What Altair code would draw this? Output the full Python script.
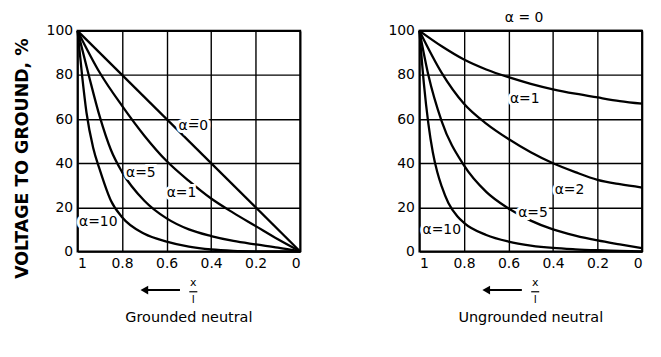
import altair as alt
import pandas as pd

# ---------------- Grounded neutral (left panel) ----------------
g_a0_x = [1.0, 0.0]
g_a0_y = [100, 0]
g_a1_x = [1.0, 0.9, 0.8, 0.7, 0.6, 0.5, 0.4, 0.3, 0.2, 0.1, 0.0]
g_a1_y = [100, 81, 66, 52.5, 41, 32, 24, 17.5, 11.5, 5.5, 0]
g_a5_x = [1.0, 0.95, 0.9, 0.85, 0.8, 0.7, 0.6, 0.5, 0.4, 0.3, 0.2, 0.1, 0.0]
g_a5_y = [100, 80, 61, 46, 36, 23, 15, 10, 7, 4.8, 3.2, 1.7, 0]
g_a10_x = [1.0, 0.98, 0.96, 0.93, 0.9, 0.85, 0.8, 0.7, 0.6, 0.5, 0.4, 0.3, 0.2, 0.0]
g_a10_y = [100, 80, 63, 47, 37, 23, 15.5, 8, 4.5, 2.2, 0.9, 0.3, 0.1, 0]

g_lab_text = ["α=0", "α=5", "α=1", "α=10"]
g_lab_x = [0.48, 0.716, 0.533, 0.907]
g_lab_y = [57, 35.5, 26.5, 13.4]

# ---------------- Ungrounded neutral (right panel) ----------------
u_a0_x = [1.0, 0.0]
u_a0_y = [100, 100]
u_a1_x = [1.0, 0.9, 0.8, 0.7, 0.6, 0.5, 0.4, 0.3, 0.2, 0.1, 0.0]
u_a1_y = [100, 93, 87, 82.5, 79, 76, 73.5, 71.5, 69.8, 68.2, 67]
u_a2_x = [1.0, 0.9, 0.8, 0.7, 0.6, 0.5, 0.4, 0.3, 0.2, 0.1, 0.0]
u_a2_y = [100, 81, 67, 58, 51, 45, 40, 36, 32.5, 30.5, 29]
u_a5_x = [1.0, 0.96, 0.9, 0.8, 0.7, 0.6, 0.5, 0.4, 0.3, 0.2, 0.1, 0.0]
u_a5_y = [100, 80, 59, 39, 27, 19.5, 14, 10, 7.2, 5, 3.2, 1.5]
u_a10_x = [1.0, 0.98, 0.96, 0.94, 0.92, 0.9, 0.87, 0.83, 0.8, 0.7, 0.6, 0.5,
           0.4, 0.3, 0.2, 0.1, 0.0]
u_a10_y = [100, 76, 58, 45, 36, 29.5, 22, 16, 13, 7.5, 4.5, 2.7,
           1.6, 1, 0.6, 0.3, 0]

u_lab_text = ["α = 0", "α=1", "α=2", "α=5", "α=10"]
u_lab_x = [0.53, 0.527, 0.326, 0.49, 0.9]
u_lab_y = [106, 69, 27.8, 17.5, 9.8]

# axis ticks
x_ticks = [1, 0.8, 0.6, 0.4, 0.2, 0]
y_ticks = [0, 20, 40, 60, 80, 100]

panel_titles = ["Grounded neutral", "Ungrounded neutral"]
y_title = "VOLTAGE TO GROUND, %"

# x-axis "<-- x/l" annotation, in data units
arrow_x = [0.70, 0.54]
arrow_y = -17.5
frac_x = 0.48
frac_top_y = -14.5
frac_bot_y = -22
title_y = -30

FONT = "DejaVu Sans"


def series_frame(pairs):
    rows = []
    for name, xs, ys in pairs:
        for xv, yv in zip(xs, ys):
            rows.append({"series": name, "x": xv, "y": yv})
    return pd.DataFrame(rows)


def panel(lines_df, lab_df, title_text, show_title):
    if show_title:
        yaxis = alt.Axis(values=y_ticks, title=y_title, titleFont=FONT,
                         titleFontSize=17.5, titleFontWeight="bold",
                         titleX=-55, titleY=128, titleAngle=270,
                         titleAlign="center", titleBaseline="middle",
                         titleColor="black")
    else:
        yaxis = alt.Axis(values=y_ticks, title=None)
    xscale = alt.Scale(domain=[0, 1], reverse=True)
    yscale = alt.Scale(domain=[0, 100])
    xenc = alt.X("x:Q", scale=xscale,
                 axis=alt.Axis(values=x_ticks, format=".1~f", title=None))
    yenc = alt.Y("y:Q", scale=yscale, axis=yaxis)

    lines = alt.Chart(lines_df).mark_line(
        interpolate="monotone", strokeWidth=2.3, color="black"
    ).encode(x=xenc, y=yenc, detail="series:N")

    halo = alt.Chart(lab_df).mark_text(
        font=FONT, fontSize=14, stroke="white", strokeWidth=6, color="white"
    ).encode(x="x:Q", y="y:Q", text="text:N")
    labels = alt.Chart(lab_df).mark_text(
        font=FONT, fontSize=14, color="black"
    ).encode(x="x:Q", y="y:Q", text="text:N")

    arrow_df = pd.DataFrame({"x": [arrow_x[0]], "x2": [arrow_x[1]], "y": [arrow_y]})
    shaft = alt.Chart(arrow_df).mark_rule(color="black", strokeWidth=2).encode(
        x="x:Q", x2="x2:Q", y="y:Q")
    head = alt.Chart(arrow_df).mark_point(
        shape="triangle-left", filled=True, color="black", size=80, opacity=1
    ).encode(x="x:Q", y="y:Q")

    frac_df = pd.DataFrame({"x": [frac_x, frac_x], "y": [frac_top_y, frac_bot_y],
                            "t": ["x", "l"]})
    frac = alt.Chart(frac_df).mark_text(font=FONT, fontSize=11, color="black").encode(
        x="x:Q", y="y:Q", text="t:N")
    bar_df = pd.DataFrame({"x": [frac_x + 0.018], "x2": [frac_x - 0.018],
                           "y": [(frac_top_y + frac_bot_y) / 2]})
    bar = alt.Chart(bar_df).mark_rule(color="black", strokeWidth=1.2).encode(
        x="x:Q", x2="x2:Q", y="y:Q")

    t_df = pd.DataFrame({"x": [0.5], "y": [title_y], "t": [title_text]})
    ttl = alt.Chart(t_df).mark_text(font=FONT, fontSize=14.5, color="black").encode(
        x="x:Q", y="y:Q", text="t:N")

    return alt.layer(lines, halo, labels, shaft, head, frac, bar, ttl).properties(
        width=224, height=222)


g_lines = series_frame([("a0", g_a0_x, g_a0_y), ("a1", g_a1_x, g_a1_y),
                        ("a5", g_a5_x, g_a5_y), ("a10", g_a10_x, g_a10_y)])
u_lines = series_frame([("a0", u_a0_x, u_a0_y), ("a1", u_a1_x, u_a1_y),
                        ("a2", u_a2_x, u_a2_y), ("a5", u_a5_x, u_a5_y),
                        ("a10", u_a10_x, u_a10_y)])
g_labs = pd.DataFrame({"x": g_lab_x, "y": g_lab_y, "text": g_lab_text})
u_labs = pd.DataFrame({"x": u_lab_x, "y": u_lab_y, "text": u_lab_text})

left = panel(g_lines, g_labs, panel_titles[0], True)
right = panel(u_lines, u_labs, panel_titles[1], False)

chart = alt.hconcat(left, right, spacing=81).properties(
    padding={"left": 4, "top": 0, "right": 5, "bottom": 5},
    background="white",
).configure_view(
    stroke="black", strokeWidth=2
).configure_axis(
    grid=True, gridColor="black", gridWidth=1.4, gridOpacity=1,
    domain=False, ticks=False, labelPadding=5,
    labelFont=FONT, labelFontSize=14, labelColor="black",
)

chart.save("out.html", embed_options={"renderer": "svg", "actions": False})
